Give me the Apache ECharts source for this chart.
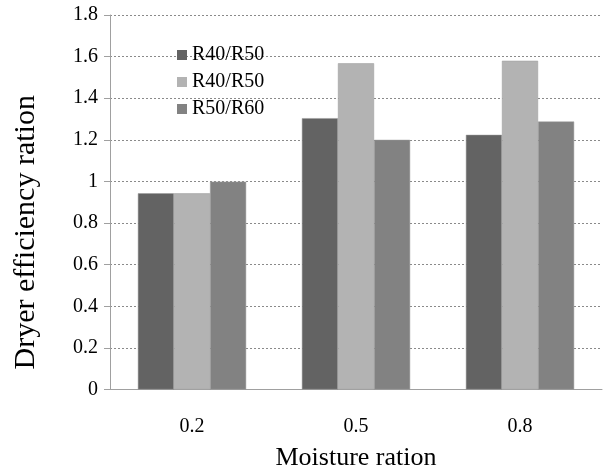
<!DOCTYPE html>
<html>
<head>
<meta charset="utf-8">
<script src="https://cdn.jsdelivr.net/npm/echarts@6/dist/echarts.min.js"></script>
<style>
  html, body { margin: 0; padding: 0; background: #fff; }
  #chart { width: 605px; height: 471px; }
</style>
</head>
<body>
<div id="chart"></div>
<script>
let categories = ['0.2', '0.5', '0.8']
let seriesNames = ['R40/R50', 'R40/R50 ', 'R50/R60']
let darkValues = [0.943, 1.304, 1.224]
let lightValues = [0.943, 1.568, 1.58]
let midValues = [0.999, 1.2, 1.288]
let barColors = ['#636363', '#b3b3b3', '#828282']

let font = 'Liberation Serif'
let chart = echarts.init(document.getElementById('chart'))

let makeSeries = (name, data) => ({
  name: name,
  type: 'bar',
  data: data,
  barGap: '0%',
  barCategoryGap: '34%',
  itemStyle: { borderColor: '#9a9a9a', borderWidth: 0.5 }
})

chart.setOption({
  animation: false,
  color: barColors,
  textStyle: { fontFamily: font },
  legend: {
    orient: 'vertical',
    left: 172,
    top: 40,
    itemWidth: 10,
    itemHeight: 10,
    itemGap: 7,
    icon: 'rect',
    itemStyle: { borderWidth: 0 },
    textStyle: { fontFamily: font, fontSize: 20, color: '#000' },
    data: seriesNames
  },
  grid: {
    left: 110, right: 3, top: 15, bottom: 81.5,
    containLabel: false,
    outerBoundsMode: 'none'
  },
  xAxis: {
    type: 'category',
    data: categories,
    name: 'Moisture ration',
    nameLocation: 'middle',
    nameGap: 56,
    nameTextStyle: { fontFamily: font, fontSize: 26, color: '#000' },
    axisLine: { lineStyle: { color: '#a0a0a0', width: 1 } },
    axisTick: { length: 5, lineStyle: { color: '#a0a0a0' } },
    axisLabel: { fontFamily: font, fontSize: 20, color: '#000', margin: 27 }
  },
  yAxis: {
    type: 'value',
    min: 0,
    max: 1.8,
    interval: 0.2,
    name: 'Dryer efficiency ration',
    nameLocation: 'middle',
    nameGap: 69,
    nameTextStyle: { fontFamily: font, fontSize: 30, color: '#000', padding: [0, 60, 0, 0] },
    axisLine: { show: true, lineStyle: { color: '#a0a0a0', width: 1 } },
    axisTick: { show: true, length: 6, lineStyle: { color: '#a0a0a0' } },
    axisLabel: {
      fontFamily: font, fontSize: 20, color: '#000', margin: 12,
      formatter: v => String(Math.round(v * 10) / 10)
    },
    splitLine: { lineStyle: { color: '#8a8a8a', type: [2, 2], width: 1 } }
  },
  series: [
    makeSeries(seriesNames[0], darkValues),
    makeSeries(seriesNames[1], lightValues),
    makeSeries(seriesNames[2], midValues)
  ]
})
</script>
</body>
</html>
